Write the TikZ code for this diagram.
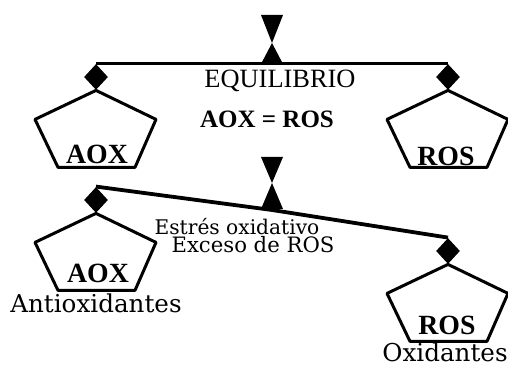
\documentclass[tikz,border=0pt]{standalone}
\usepackage{fontspec}
\setmainfont{Liberation Serif}
\newfontfamily\rotulo{DejaVu Serif}
\usetikzlibrary{shapes.geometric,positioning}

\tikzset{
  pesa/.style={diamond,fill=black,inner sep=0pt,minimum width=12pt,minimum height=13pt},
  viga/.style={line width=1.9pt},
  platillo/.pic={\draw[line width=1.5pt,line join=round] (0,0) -- (-61,29) -- (-38,77) -- (39,77) -- (60,29) -- cycle;},
  marca/.style={font=\bfseries\fontsize{13.9}{15}\selectfont,anchor=base},
  nota/.style={font=\rotulo\fontsize{12.3}{14}\selectfont,anchor=base}
}

\begin{document}
\begin{tikzpicture}[x=0.5pt,y=-0.5pt]
\useasboundingbox (0,0) rectangle (508,367);

% balanza en equilibrio
\coordinate (eje1) at (272,43);
\fill (eje1) -- (261,15) -- (283,15) -- cycle;
\fill (eje1) -- (283,64) -- (261,64) -- cycle;
\node[pesa] (aoxpesa1) at (96,77) {};
\node[pesa] (rospesa1) at (448,77) {};
\draw[viga] (aoxpesa1.north) -- (rospesa1.north);
\pic at (aoxpesa1.south) {platillo};
\pic at (rospesa1.south) {platillo};

\node[marca] (aox1) at (97,164) {AOX};
\node[marca] (ros1) at (446,166) {ROS};
\node[font=\fontsize{13.2}{15}\selectfont,anchor=base] (equilibrio) at (280,88) {EQUILIBRIO};
\node[marca,font=\bfseries\fontsize{12.5}{14}\selectfont] (igual) at (267,128) {AOX = ROS};

% balanza inclinada
\coordinate (eje2) at (272,183);
\fill (eje2) -- (261,157) -- (283,157) -- cycle;
\fill (eje2) -- (283,209) -- (261,209) -- cycle;
\node[pesa] (aoxpesa2) at (96,200) {};
\node[pesa] (rospesa2) at (448,251) {};
\coordinate (apoyo2) at (272,210);
\draw[viga] (aoxpesa2.north) -- (apoyo2) -- (rospesa2.north);
\pic at (aoxpesa2.south) {platillo};
\pic at (rospesa2.south) {platillo};

\node[marca] (aox2) at (98,283) {AOX};
\node[marca] (ros2) at (447,335) {ROS};
\node[nota] (antiox) at (96,313) {Antioxidantes};
\node[nota] (oxid) at (445,362) {Oxidantes};

%\node[nota] (estres) at (237,235) {Estrés};
\node[nota,font=\rotulo\fontsize{10.1}{11}\selectfont] (estres) at (237,235) {Estrés oxidativo};
\node[nota,font=\rotulo\fontsize{10.6}{12}\selectfont] (exceso) at (253,253) {Exceso de ROS};
\end{tikzpicture}
\end{document}
